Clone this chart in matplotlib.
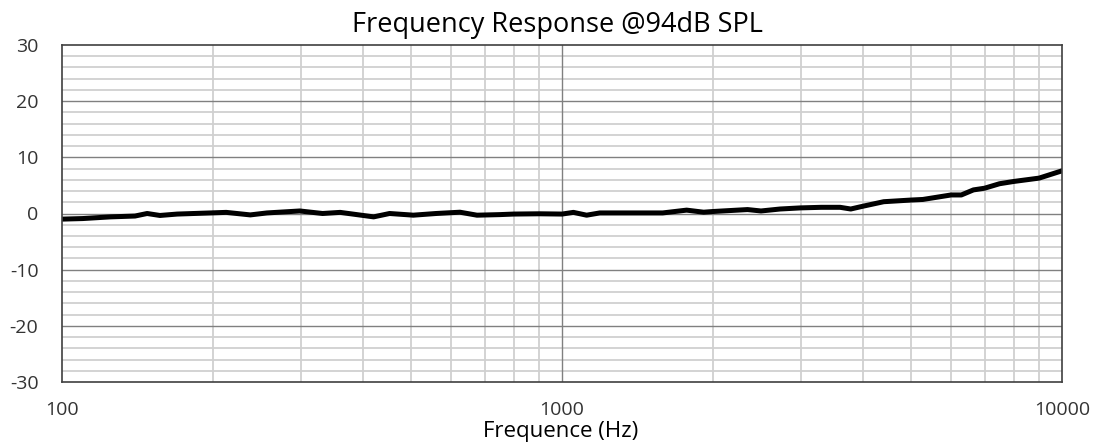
import matplotlib
matplotlib.use("Agg")
import matplotlib.pyplot as plt
from matplotlib.ticker import FixedLocator, NullFormatter

freq_hz = [100, 110, 125, 140, 148, 157, 170, 198, 213, 238, 257, 299, 332, 360, 420, 452,
           496, 504, 560, 625, 676, 750, 800, 900, 1000, 1054, 1120, 1190, 1350, 1590, 1775,
           1920, 2000, 2350, 2500, 2730, 3000, 3300, 3600, 3780, 4000, 4400, 5000, 5270,
           6000, 6290, 6650, 7000, 7500, 8000, 9000, 10000]
spl_db = [-1.0, -0.9, -0.6, -0.45, 0.0, -0.35, -0.1, 0.1, 0.2, -0.25, 0.1, 0.45, 0.0, 0.2, -0.6, 0.0,
          -0.25, -0.3, 0.0, 0.23, -0.3, -0.2, -0.1, -0.05, -0.1, 0.2, -0.3, 0.1, 0.1, 0.1, 0.6,
          0.23, 0.35, 0.7, 0.45, 0.8, 1.0, 1.1, 1.1, 0.8, 1.3, 2.1, 2.4, 2.5,
          3.3, 3.3, 4.2, 4.5, 5.3, 5.7, 6.3, 7.6]

x_ticks = [100, 1000, 10000]
x_tick_labels = ["100", "1000", "10000"]
y_ticks = [-30, -20, -10, 0, 10, 20, 30]

plt.rcParams['font.family'] = ['Open Sans', 'DejaVu Sans']
plt.rcParams['axes.unicode_minus'] = False

W, H = 1093, 443
fig = plt.figure(figsize=(W / 100, H / 100), dpi=100)
ax = fig.add_axes([62 / W, 61 / H, 1000 / W, 337 / H])

ax.set_xscale('log')
ax.set_xlim(100, 10000)
ax.set_ylim(-30, 30)

# grid
minor_x = [m * d for d in (100, 1000) for m in range(2, 10)]
for f in minor_x:
    ax.axvline(f, color='#d0d0d0', lw=1.3, zorder=1)
ax.axvline(1000, color='#808080', lw=1.0, zorder=1.2)
for v in range(-28, 30, 2):
    if v % 10 != 0:
        ax.axhline(v, color='#d0d0d0', lw=1.3, zorder=1)
for v in (-20, -10, 0, 10, 20):
    ax.axhline(v, color='#808080', lw=1.0, zorder=1.2)

ax.plot(freq_hz, spl_db, color='black', lw=3.6, zorder=3, solid_joinstyle='round')

ax.xaxis.set_major_locator(FixedLocator(x_ticks))
ax.set_xticklabels(x_tick_labels)
ax.xaxis.set_minor_locator(FixedLocator([]))
ax.xaxis.set_minor_formatter(NullFormatter())
ax.set_yticks(y_ticks)
ax.tick_params(axis='both', length=0, labelsize=14, colors='#333333')
ax.tick_params(axis='x', pad=14)
ax.tick_params(axis='y', pad=17)

for s in ax.spines.values():
    s.set_color('#404040')
    s.set_linewidth(1.2)
    s.set_zorder(4)

fig.text(557 / W, (H - 32) / H, "Frequency Response @94dB SPL", fontsize=19.5,
         color='black', ha='center', va='baseline')
fig.text(561 / W, (H - 437) / H, "Frequence (Hz)", fontsize=16,
         color='black', ha='center', va='baseline')

fig.savefig("out.png", dpi=100)
